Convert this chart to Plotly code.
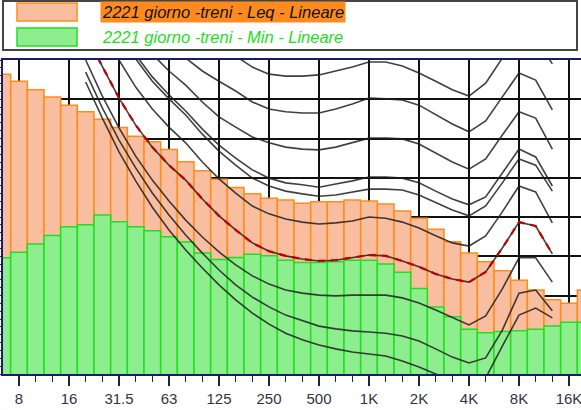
import plotly.graph_objects as go

# third-octave bands (6.3 Hz .. 20 kHz); index 1 (8 Hz) sits at x = 0
bands = ["6.3", "8", "10", "12.5", "16", "20", "25", "31.5", "40", "50",
         "63", "80", "100", "125", "160", "200", "250", "315", "400", "500",
         "630", "800", "1K", "1.25K", "1.6K", "2K", "2.5K", "3.15K", "4K", "5K",
         "6.3K", "8K", "10K", "12.5K", "16K", "20K"]

leq = [86.4, 84.6, 82.4, 80.6, 78.5, 76.8, 74.9, 72.8, 70.6, 69.2,
       67.2, 64.1, 61.8, 59.6, 57.5, 55.9, 54.8, 54.3, 53.5, 53.9,
       53.9, 54.3, 54.1, 53.3, 51.5, 49.7, 46.9, 43.7, 40.8, 38.6,
       36.3, 33.9, 31.4, 28.9, 28.0, 31.4]

lmin = [39.6, 41.0, 43.1, 45.3, 47.5, 48.0, 50.5, 48.8, 47.5, 46.5,
        45.0, 43.6, 40.8, 39.2, 39.7, 40.5, 40.1, 39.0, 38.4, 38.4,
        38.6, 39.0, 39.0, 38.0, 35.9, 31.8, 27.1, 24.6, 21.4, 20.5,
        20.8, 21.0, 21.4, 22.2, 23.2, 23.2]

# equal-loudness contours, 20 Hz .. 12.5 kHz
contour_bands = bands[5:34]
curve_a = [134.6, 127.7, 120.6, 114.2, 109.1, 105.0, 101.5, 97.4, 94.1, 91.0,
           88.2, 86.4, 85.9, 85.9, 86.2, 87.2, 88.2, 89.5, 89.5, 88.5,
           86.7, 84.6, 82.4, 80.8, 84.1, 90.5, 97.1, 95.6, 89.0]
curve_b = [121.8, 115.0, 108.3, 102.2, 97.4, 93.6, 90.5, 87.2, 84.6, 82.1,
           79.3, 77.5, 76.8, 76.5, 76.5, 77.5, 78.8, 80.3, 80.1, 79.8,
           78.5, 76.2, 73.7, 71.7, 74.5, 80.6, 86.7, 84.9, 77.3]
curve_c = [118.0, 110.6, 103.2, 96.9, 91.5, 87.2, 83.6, 79.3, 75.5, 72.9,
           70.4, 68.9, 67.8, 67.3, 67.1, 67.8, 68.9, 70.1, 70.1, 69.9,
           68.6, 66.3, 64.0, 62.2, 64.8, 70.9, 76.8, 75.2, 67.3]
curve_d = [114.2, 106.1, 98.2, 91.3, 85.7, 81.1, 77.0, 72.4, 68.3, 65.0,
           62.0, 59.9, 58.7, 58.2, 57.6, 58.4, 59.2, 60.2, 60.2, 59.9,
           58.7, 56.6, 54.6, 53.1, 55.1, 61.2, 67.3, 65.3, 57.9]
curve_e = [113.2, 105.0, 97.1, 90.3, 84.6, 80.1, 76.0, 71.1, 66.8, 63.2,
           59.9, 57.9, 56.6, 55.9, 55.3, 55.6, 56.4, 57.1, 57.1, 56.9,
           55.6, 53.8, 51.8, 50.3, 52.8, 58.7, 64.8, 63.2, 56.6]
curve_f = [106.1, 97.9, 90.0, 83.1, 77.5, 72.9, 68.9, 64.0, 59.7, 56.1,
           52.8, 50.8, 49.5, 48.7, 48.2, 48.5, 49.0, 50.0, 49.7, 48.7,
           47.2, 45.2, 43.4, 42.6, 45.2, 51.3, 57.9, 56.4, 48.5]
curve_red = [96.4, 88.2, 80.3, 73.4, 67.8, 63.2, 59.4, 54.6, 50.3, 46.7,
             43.4, 41.3, 40.1, 39.3, 38.8, 39.0, 39.6, 40.3, 40.1, 38.8,
             37.3, 35.5, 34.2, 33.4, 36.0, 42.1, 48.7, 47.7, 40.6]
curve_h = [90.0, 80.8, 72.7, 65.5, 59.4, 54.1, 49.2, 44.9, 41.1, 37.8,
           35.0, 32.9, 31.4, 30.6, 30.1, 29.9, 30.1, 30.1, 30.1, 29.4,
           28.1, 26.3, 24.3, 22.5, 24.8, 31.7, 39.6, 39.6, 33.4]
curve_i = [86.9, 77.8, 69.6, 62.5, 56.1, 50.5, 45.4, 40.8, 36.5, 32.7,
           29.6, 27.1, 25.0, 23.5, 22.2, 21.5, 21.0, 20.7, 20.4, 19.7,
           18.4, 16.4, 14.3, 12.8, 14.1, 21.2, 30.6, 31.4, 26.1]
curve_j = [84.4, 75.2, 66.6, 59.2, 52.5, 46.7, 41.6, 37.0, 32.7, 28.9,
           25.5, 22.7, 20.4, 18.7, 17.4, 16.4, 15.6, 15.1, 14.6, 13.3,
           11.8, 10.0, 8.5, 7.5, 9.0, 17.1, 25.0, 26.8, 24.3]

octave_labels = ["8", "16", "31.5", "63", "125", "250", "500", "1K", "2K", "4K", "8K", "16K"]

legend_names = ["2221 giorno -treni - Leq - Lineare", "2221 giorno -treni - Min - Lineare"]

# ---------------------------------------------------------------------------
pos = {b: i - 1 for i, b in enumerate(bands)}
xb = [pos[b] for b in bands]
xc = [pos[b] for b in contour_bands]
tickvals = [pos[b] for b in octave_labels]

W, H = 581, 410
L, R, T, B = 3, 0, 60, 36
pw, ph = W - L - R, H - T - B

def px(xp):
    return (xp - L) / pw

def py(yp):
    return (H - B - yp) / ph

fig = go.Figure()
fig.add_trace(go.Bar(x=xb, y=leq, width=1, name=legend_names[0],
                     marker=dict(color="#F9BEA0", line=dict(color="#FF8C1A", width=1.5))))
fig.add_trace(go.Bar(x=xb, y=lmin, width=1, name=legend_names[1],
                     marker=dict(color="#8CEE8C", line=dict(color="#22DD22", width=1.5))))

line_col = "rgba(30,30,30,0.85)"
for c in [curve_a, curve_b, curve_c, curve_d, curve_e, curve_f, curve_h, curve_i, curve_j]:
    fig.add_trace(go.Scatter(x=xc, y=c, mode="lines", line=dict(color=line_col, width=1.6),
                             hoverinfo="skip"))
fig.add_trace(go.Scatter(x=xc, y=curve_red, mode="lines", line=dict(color=line_col, width=1.6),
                         hoverinfo="skip"))
fig.add_trace(go.Scatter(x=xc, y=curve_red, mode="lines",
                         line=dict(color="#C00000", width=2.2, dash="7px,6px"), hoverinfo="skip"))

navy = "#1A1A70"
fig.update_layout(
    width=W, height=H,
    margin=dict(l=L, r=R, t=T, b=B),
    paper_bgcolor="white", plot_bgcolor="white",
    barmode="overlay", bargap=0,
    showlegend=False,
    font=dict(family="Liberation Sans, Arial, sans-serif"),
    xaxis=dict(range=[-0.96, 33.72], tickmode="array", tickvals=tickvals, ticktext=octave_labels,
               ticks="outside", ticklen=10, tickwidth=2, tickcolor="#222244",
               tickfont=dict(size=15, color="#333344"), ticklabeloverflow="allow",
               showgrid=True, gridcolor="#111111", gridwidth=2,
               showline=True, linecolor=navy, linewidth=2, mirror=True, zeroline=False,
               minor=dict(ticks="outside", ticklen=6, tickwidth=1.5, tickcolor="#222244",
                          tickmode="linear", tick0=0, dtick=1, showgrid=False)),
    yaxis=dict(range=[10, 90], tickmode="linear", tick0=10, dtick=10, showticklabels=False,
               ticks="outside", ticklen=3, tickcolor="#222244",
               showgrid=True, gridcolor="#111111", gridwidth=2,
               showline=True, linecolor=navy, linewidth=2, zeroline=False,
               minor=dict(ticks="outside", ticklen=3, tickcolor="#222244", dtick=2, showgrid=False)),
)

# legend drawn by hand
shapes = [
    dict(type="rect", xref="paper", yref="paper", x0=px(3), x1=px(577), y0=py(50), y1=py(1),
         line=dict(color="#444444", width=2), fillcolor="white", layer="above"),
    dict(type="rect", xref="paper", yref="paper", x0=px(17), x1=px(77), y0=py(21), y1=py(3),
         line=dict(color="#FF8C1A", width=1.5), fillcolor="#F9BEA0", layer="above"),
    dict(type="rect", xref="paper", yref="paper", x0=px(17), x1=px(77), y0=py(46), y1=py(28),
         line=dict(color="#22DD22", width=1.5), fillcolor="#8CEE8C", layer="above"),
]
fig.update_layout(shapes=shapes)
fig.add_annotation(x=px(100), y=py(12), xref="paper", yref="paper", xanchor="left", yanchor="middle",
                   text="<i>" + legend_names[0] + "</i>", showarrow=False,
                   font=dict(size=16.5, color="#111111"), bgcolor="#FF8A1E", borderpad=1)
fig.add_annotation(x=px(100), y=py(37), xref="paper", yref="paper", xanchor="left", yanchor="middle",
                   text="<i>" + legend_names[1] + "</i>", showarrow=False,
                   font=dict(size=16.5, color="#22DD22"), borderpad=1)

fig.write_html("out.html", config={"displayModeBar": False, "staticPlot": True},
               post_script="document.body.style.margin='0';document.body.style.overflow='hidden';")
